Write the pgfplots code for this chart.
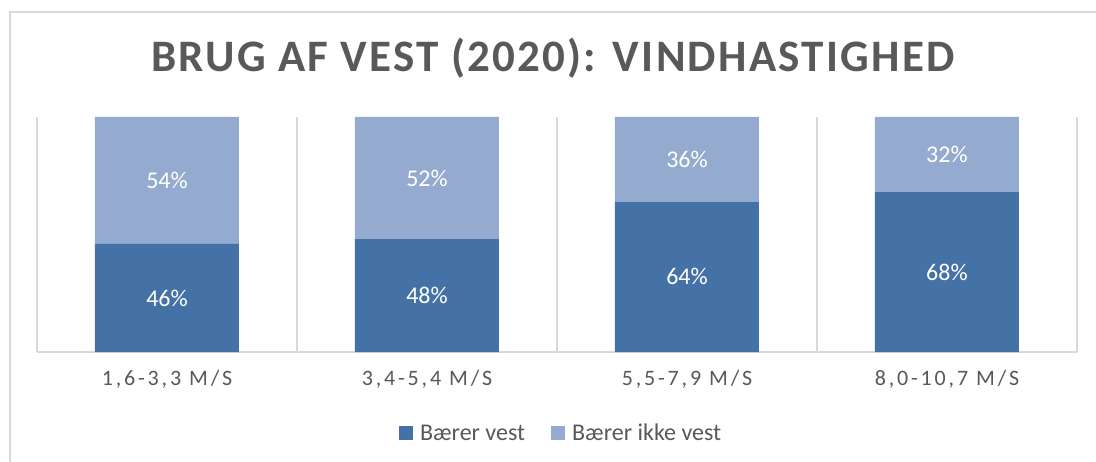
\documentclass[border=0pt]{standalone}
\usepackage{pgfplots}
\pgfplotsset{compat=1.18}
\usepackage{fontspec}
\setmainfont{Carlito}
\definecolor{dark}{HTML}{4472A6}
\definecolor{light}{HTML}{95AACF}
\definecolor{gridc}{HTML}{D9D9D9}
\definecolor{txt}{HTML}{595959}
\begin{document}
\begin{tikzpicture}[x=1pt,y=1pt]
\path[use as bounding box, fill=white] (0,0) rectangle (1096,461);
\draw[gridc, line width=1.2pt] (10,-5) -- (10,449) -- (1101,449);
\node[text=txt, font=\fontsize{45}{50}\selectfont\bfseries\addfontfeature{LetterSpace=5}] at (553,403) {BRUG AF VEST (2020): VINDHASTIGHED};
\begin{axis}[at={(37pt,109pt)}, anchor=south west, scale only axis,
  width=1040pt, height=235pt, xmin=-0.5, xmax=3.5, ymin=0, ymax=100,
  ybar stacked, bar width=144pt,
  axis x line*=bottom, axis y line=none,
  x axis line style={gridc, line width=1.2pt, -},
  xtick={0,1,2,3},
  xticklabels={{1,6-3,3 M/S}, {3,4-5,4 M/S}, {5,5-7,9 M/S}, {8,0-10,7 M/S}},
  major tick length=0pt, minor tick length=0pt,
  minor xtick={-0.5,0.5,1.5,2.5,3.5},
  xminorgrids=true, xmajorgrids=false,
  minor grid style={gridc, line width=1.2pt},
  xticklabel style={text=txt, font=\fontsize{22}{26}\selectfont\addfontfeature{LetterSpace=13}, yshift=-15pt},
  legend style={at={(0.504,-0.345)}, anchor=center, draw=none, fill=none,
    legend columns=2, font=\fontsize{24}{28}\selectfont, text=txt,
    /tikz/every odd column/.append style={column sep=5pt},
    /tikz/every even column/.append style={column sep=24pt}},
  legend image code/.code={\fill[#1, draw=none] (0pt,-7pt) rectangle (14pt,7pt);},
]
\addplot[fill=dark, draw=none] coordinates {(0,46) (1,48) (2,64) (3,68)};
\addplot[fill=light, draw=none] coordinates {(0,54) (1,52) (2,36) (3,32)};
\legend{Bærer vest, Bærer ikke vest}
\end{axis}
\begin{axis}[at={(37pt,109pt)}, anchor=south west, scale only axis,
  width=1040pt, height=235pt, xmin=-0.5, xmax=3.5, ymin=0, ymax=100,
  hide axis, clip=false]
\addplot[draw=none, mark=none, nodes near coords, point meta=explicit symbolic,
  every node near coord/.append style={anchor=center, text=white, font=\fontsize{24}{28}\selectfont}]
  coordinates {(0,23)[46\%] (1,24)[48\%] (2,32)[64\%] (3,34)[68\%]
               (0,73)[54\%] (1,74)[52\%] (2,82)[36\%] (3,84)[32\%]};
\end{axis}
\end{tikzpicture}
\end{document}
